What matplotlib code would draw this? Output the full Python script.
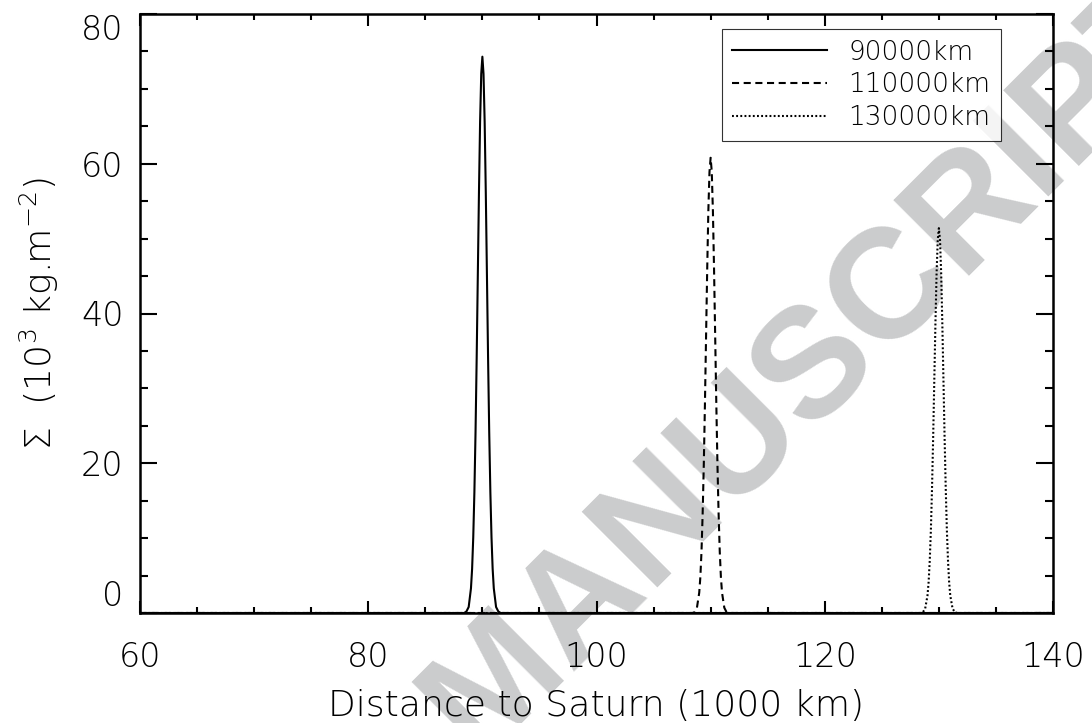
import numpy as np
import matplotlib
matplotlib.use("Agg")
import matplotlib.pyplot as plt
from matplotlib.ticker import MultipleLocator

plt.rcParams["font.family"] = ["DejaVu Sans"]
plt.rcParams["font.weight"] = 200
plt.rcParams["axes.labelweight"] = 200
plt.rcParams["mathtext.default"] = "regular"

# Ring surface density profiles
labels = ["90000km", "110000km", "130000km"]
centers = [90.0, 110.0, 130.0]   # 1000 km
dx = [-1.6, -1.4, -1.2, -1.0, -0.9, -0.8, -0.7, -0.6, -0.5, -0.4, -0.3, -0.2, -0.1, 0.0,
      0.1, 0.2, 0.3, 0.4, 0.5, 0.6, 0.7, 0.8, 0.9, 1.0, 1.2, 1.4, 1.6]
sigma_90 = [0.0, 0.2, 0.8, 3.3, 5.9, 10.1, 16.1, 24.1, 34.0, 45.1, 56.1, 65.6, 72.0, 74.3,
            72.0, 65.6, 56.1, 45.1, 34.0, 24.1, 16.1, 10.1, 5.9, 3.3, 0.8, 0.2, 0.0]
sigma_110 = [0.0, 0.1, 0.7, 2.7, 4.8, 8.2, 13.2, 19.7, 27.8, 36.9, 45.9, 53.7, 58.9, 60.8,
             58.9, 53.7, 45.9, 36.9, 27.8, 19.7, 13.2, 8.2, 4.8, 2.7, 0.7, 0.1, 0.0]
sigma_130 = [0.0, 0.1, 0.6, 2.3, 4.1, 7.0, 11.1, 16.7, 23.5, 31.2, 38.8, 45.4, 49.8, 51.4,
             49.8, 45.4, 38.8, 31.2, 23.5, 16.7, 11.1, 7.0, 4.1, 2.3, 0.6, 0.1, 0.0]
profiles = [sigma_90, sigma_110, sigma_130]
x_min, x_max = 60, 140
xticks = [60, 80, 100, 120, 140]
yticks = [0, 20, 40, 60, 80]

styles = [dict(ls="-", lw=1.5),
          dict(ls=(0, (3.4, 2.2)), lw=1.5),
          dict(ls=(0, (0.9, 1.1)), lw=1.5)]

fig = plt.figure(figsize=(10.92, 7.23), dpi=100)
ax = fig.add_axes([140 / 1092, 110 / 723, 913 / 1092, 599 / 723])
ax.set_facecolor("none")

# watermark
fig.text(815 / 1092, 1 - 362 / 723, "MANUSCRIPT", rotation=45, ha="center", va="center",
         fontsize=112, fontweight="bold", family=["Liberation Sans", "DejaVu Sans"],
         color="#cbcccd", zorder=-5)

for c, prof, lab, st in zip(centers, profiles, labels, styles):
    xs = [x_min] + [c + d for d in dx] + [x_max]
    ys = [0.0] + prof + [0.0]
    ax.plot(xs, ys, color="black", label=lab, **st)

ax.set_xlim(x_min, x_max)
ax.set_ylim(0, 80)
ax.set_xticks(xticks)
ax.set_yticks(yticks)
ax.xaxis.set_minor_locator(MultipleLocator(5))
ax.yaxis.set_minor_locator(MultipleLocator(5))
ax.tick_params(which="both", direction="in", top=True, right=True, width=1.5,
               labelsize=24, colors="black")
ax.tick_params(axis="x", which="major", length=8.6, pad=20)
ax.tick_params(axis="x", which="minor", length=4.3)
ax.tick_params(axis="y", which="major", length=12.2, pad=12)
ax.tick_params(axis="y", which="minor", length=5.8)
for s in ax.spines.values():
    s.set_linewidth(1.8)

ax.set_xlabel("Distance to Saturn (1000 km)", fontsize=26, labelpad=11)
ax.set_ylabel("Σ  (10$^3$ kg.m$^{-2}$)", fontsize=26, labelpad=14)

# IDL-style: end labels pushed inside the axis range
ylabs = ax.get_yticklabels()
ylabs[0].set_va("bottom")
ylabs[-1].set_va("top")

leg = ax.legend(loc="upper right", bbox_to_anchor=(0.943, 0.975),
                fontsize=19, frameon=True, fancybox=False, edgecolor="black",
                handlelength=3.6, handletextpad=0.8, labelspacing=0.3,
                borderpad=0.4, borderaxespad=0)
leg.get_frame().set_linewidth(0.8)

fig.savefig("out.png", dpi=100)
